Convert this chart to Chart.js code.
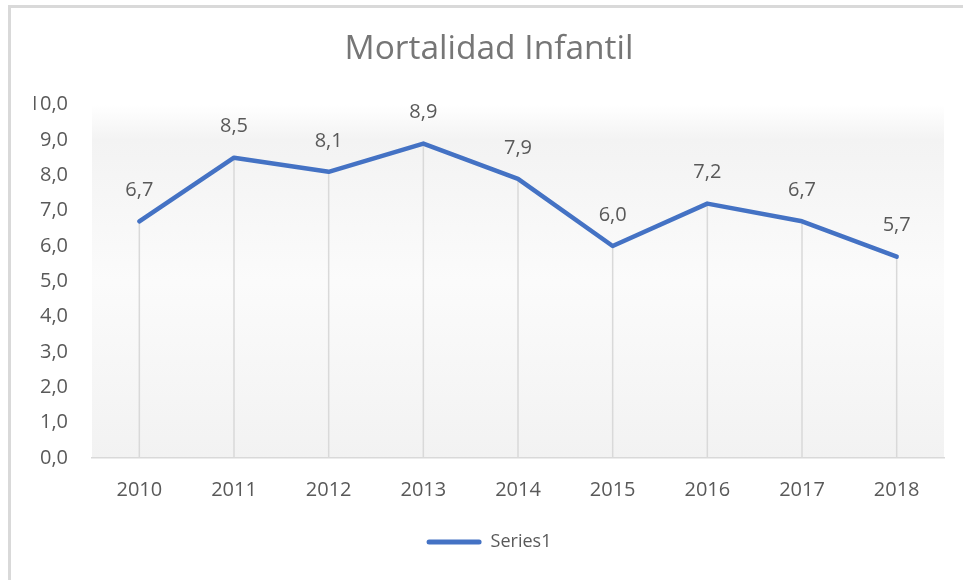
<!DOCTYPE html>
<html>
<head>
<meta charset="utf-8">
<script src="https://cdn.jsdelivr.net/npm/chart.js@4"></script>
<style>
  html, body { margin: 0; padding: 0; background: #fff; overflow: hidden; }
  #frame {
    position: absolute; left: 8px; top: 5px; width: 2000px; height: 2000px;
    border-left: 3px solid #d9d9d9; border-top: 3px solid #d9d9d9;
  }
  #wrap { position: absolute; left: 0; top: 0; width: 963px; height: 580px; }
</style>
</head>
<body>
<div id="frame"></div>
<div id="wrap"><canvas id="chart"></canvas></div>
<script>
  // Values
  var years = ["2010", "2011", "2012", "2013", "2014", "2015", "2016", "2017", "2018"];
  var mortality = [6.7, 8.5, 8.1, 8.9, 7.9, 6.0, 7.2, 6.7, 5.7];
  var seriesName = "Series1";
  var chartTitle = "Mortalidad Infantil";

  var TEXT = "#595959";
  var BLUE = "#4472C4";
  var FONT = "'Open Sans', Lato, sans-serif";

  function comma(v) {
    return Number(v).toFixed(1).replace(".", ",");
  }

  // Soft grey gradient behind the plot area
  var plotBackground = {
    id: "plotBackground",
    beforeDraw: function (chart) {
      var a = chart.chartArea, ctx = chart.ctx;
      var g = ctx.createLinearGradient(0, a.top, 0, a.bottom);
      g.addColorStop(0, "#ffffff");
      g.addColorStop(0.1, "#f3f3f3");
      g.addColorStop(0.5, "#fbfbfb");
      g.addColorStop(1, "#f2f2f2");
      ctx.save();
      ctx.fillStyle = g;
      ctx.fillRect(a.left, a.top, a.right - a.left, a.bottom - a.top);
      ctx.restore();
    }
  };

  // Drop lines from each point down to the category axis
  var dropLines = {
    id: "dropLines",
    beforeDatasetsDraw: function (chart) {
      var ctx = chart.ctx, bottom = chart.scales.y.getPixelForValue(0);
      var meta = chart.getDatasetMeta(0);
      ctx.save();
      ctx.strokeStyle = "#d9d9d9";
      ctx.lineWidth = 1.5;
      meta.data.forEach(function (pt) {
        ctx.beginPath();
        ctx.moveTo(pt.x, pt.y);
        ctx.lineTo(pt.x, bottom);
        ctx.stroke();
      });
      ctx.restore();
    }
  };

  // Value labels above each point
  var valueLabels = {
    id: "valueLabels",
    afterDatasetsDraw: function (chart) {
      var ctx = chart.ctx;
      var meta = chart.getDatasetMeta(0);
      var values = chart.data.datasets[0].data;
      ctx.save();
      ctx.fillStyle = TEXT;
      ctx.font = "20px " + FONT;
      ctx.textAlign = "center";
      ctx.textBaseline = "middle";
      meta.data.forEach(function (pt, i) {
        ctx.fillText(comma(values[i]), pt.x, pt.y - 31);
      });
      ctx.restore();
    }
  };

  new Chart(document.getElementById("chart"), {
    type: "line",
    data: {
      labels: years,
      datasets: [{
        label: seriesName,
        data: mortality,
        borderColor: BLUE,
        backgroundColor: BLUE,
        borderWidth: 4.5,
        borderCapStyle: "round",
        borderJoinStyle: "round",
        pointRadius: 0,
        tension: 0
      }]
    },
    options: {
      responsive: true,
      maintainAspectRatio: false,
      animation: false,
      layout: { padding: { left: 34, right: 19, top: 12, bottom: 19 } },
      plugins: {
        title: {
          display: true,
          text: chartTitle,
          color: "#767676",
          font: { family: FONT, size: 33.5, weight: "normal" },
          padding: { top: 17, bottom: 35.5 }
        },
        legend: {
          position: "bottom",
          labels: {
            color: TEXT,
            font: { family: FONT, size: 18 },
            boxWidth: 55,
            boxHeight: 5,
            useBorderRadius: true,
            borderRadius: 2.5,
            generateLabels: function (chart) {
              return Chart.defaults.plugins.legend.labels.generateLabels(chart).map(function (l) {
                l.lineWidth = 0;
                return l;
              });
            }
          }
        },
        tooltip: { enabled: false }
      },
      scales: {
        x: {
          offset: true,
          grid: { display: false, drawTicks: false },
          border: { display: true, color: "#d9d9d9", width: 1.5 },
          afterFit: function (scale) { scale.height = 65; },
          ticks: { color: TEXT, font: { family: FONT, size: 20 }, padding: 20 }
        },
        y: {
          min: 0,
          max: 10,
          grid: { display: false, drawTicks: false },
          border: { display: false },
          afterFit: function (scale) { scale.width = 58; },
          ticks: {
            stepSize: 1,
            color: TEXT,
            font: { family: FONT, size: 20 },
            padding: 24,
            callback: function (v) { return comma(v); }
          }
        }
      }
    },
    plugins: [plotBackground, dropLines, valueLabels]
  });
</script>
</body>
</html>
